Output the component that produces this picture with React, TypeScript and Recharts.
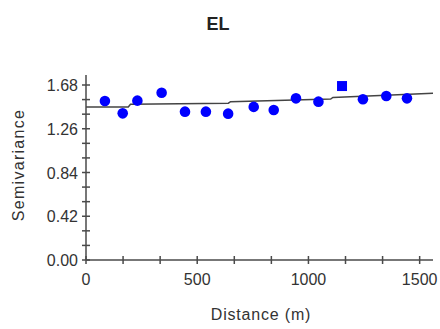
import { ComposedChart, Scatter, Line, XAxis, YAxis } from 'recharts'

// empirical semivariogram points (distance m, semivariance)
const distances = [85, 165, 231, 340, 445, 539, 639, 754, 844, 944, 1045, 1245, 1350, 1443]
const semivariances = [1.526, 1.408, 1.53, 1.606, 1.424, 1.424, 1.405, 1.47, 1.44, 1.552, 1.52, 1.543, 1.574, 1.552]

// the one point drawn with a square marker
const squareDistance = [1151]
const squareValue = [1.67]

// fitted model curve
const modelDistances = [0, 190, 200, 640, 650, 1100, 1110, 1560]
const modelValues = [1.47, 1.47, 1.495, 1.505, 1.52, 1.545, 1.56, 1.6]

const xTicks = [0, 1, 2, 3, 4, 5, 6, 7, 8, 9].map((i) => (i * 500) / 3)
const yTicks = [0, 1, 2, 3, 4, 5, 6, 7, 8, 9, 10, 11, 12].map((i) => +(i * 0.14).toFixed(2))

const points = distances.map((d, i) => ({ d, v: semivariances[i] }))
const squarePoints = squareDistance.map((d, i) => ({ d, v: squareValue[i] }))
const model = modelDistances.map((d, i) => ({ d, v: modelValues[i] }))

const ink = '#333'
const axisColor = '#4a4a4a'
const font = 'Liberation Sans, Arial, sans-serif'

function XTick(props: any) {
  const { x, y, payload, index } = props
  const axisY = y - 10
  return (
    <g>
      <line x1={x} x2={x} y1={axisY - 4} y2={axisY + 4} stroke={axisColor} strokeWidth={1.5} />
      {index % 3 === 0 && (
        <text x={x} y={axisY + 25} textAnchor="middle" fill={ink} fontSize={16} fontFamily={font}>
          {Math.round(payload.value)}
        </text>
      )}
    </g>
  )
}

function YTick(props: any) {
  const { x, y, payload, index } = props
  const axisX = x + 10
  return (
    <g>
      <line x1={axisX - 4} x2={axisX + 4} y1={y} y2={y} stroke={axisColor} strokeWidth={1.5} />
      {index % 3 === 0 && (
        <text x={axisX - 8} y={y + 6} textAnchor="end" fill={ink} fontSize={16} fontFamily={font}>
          {payload.value.toFixed(2)}
        </text>
      )}
    </g>
  )
}

export default function App() {
  return (
    <div style={{ position: 'absolute', left: 0, top: 0, width: 440, height: 329, background: '#fff', fontFamily: font }}>
      <ComposedChart width={440} height={329} margin={{ top: 75, right: 7, left: 30, bottom: 0 }}>
        <XAxis
          type="number"
          dataKey="d"
          domain={[0, 1560]}
          ticks={xTicks}
          interval={0}
          height={69}
          stroke={axisColor}
          strokeWidth={1.5}
          tickLine={false}
          tickSize={4}
          tickMargin={6}
          tick={<XTick />}
          allowDataOverflow
        />
        <YAxis
          type="number"
          dataKey="v"
          domain={[0, 1.776]}
          ticks={yTicks}
          interval={0}
          width={56}
          stroke={axisColor}
          strokeWidth={1.5}
          tickLine={false}
          tickSize={4}
          tickMargin={6}
          tick={<YTick />}
          allowDataOverflow
        />
        <Line
          data={model}
          dataKey="v"
          type="linear"
          stroke="#444"
          strokeWidth={1.5}
          dot={false}
          isAnimationActive={false}
        />
        <Scatter
          data={points}
          dataKey="v"
          isAnimationActive={false}
          shape={(p: any) => <circle cx={p.cx} cy={p.cy} r={5.3} fill="#0000ff" />}
        />
        <Scatter
          data={squarePoints}
          dataKey="v"
          isAnimationActive={false}
          shape={(p: any) => <rect x={p.cx - 5} y={p.cy - 5} width={10} height={10} fill="#0000ff" />}
        />
      </ComposedChart>
      <div style={{ position: 'absolute', left: 0, width: 440, top: 14, textAlign: 'center', fontSize: 18, fontWeight: 'bold', color: '#222' }}>
        <span style={{ position: 'relative', left: -2 }}>EL</span>
      </div>
      <div style={{ position: 'absolute', left: 86, width: 350, top: 306, textAlign: 'center', fontSize: 16, color: ink, letterSpacing: 0.8 }}>
        Distance (m)
      </div>
      <div
        style={{
          position: 'absolute',
          left: 19,
          top: 165,
          transform: 'translate(-50%, -50%) rotate(-90deg)',
          whiteSpace: 'nowrap',
          fontSize: 16,
          color: ink,
          letterSpacing: 1.3,
        }}
      >
        Semivariance
      </div>
    </div>
  )
}
